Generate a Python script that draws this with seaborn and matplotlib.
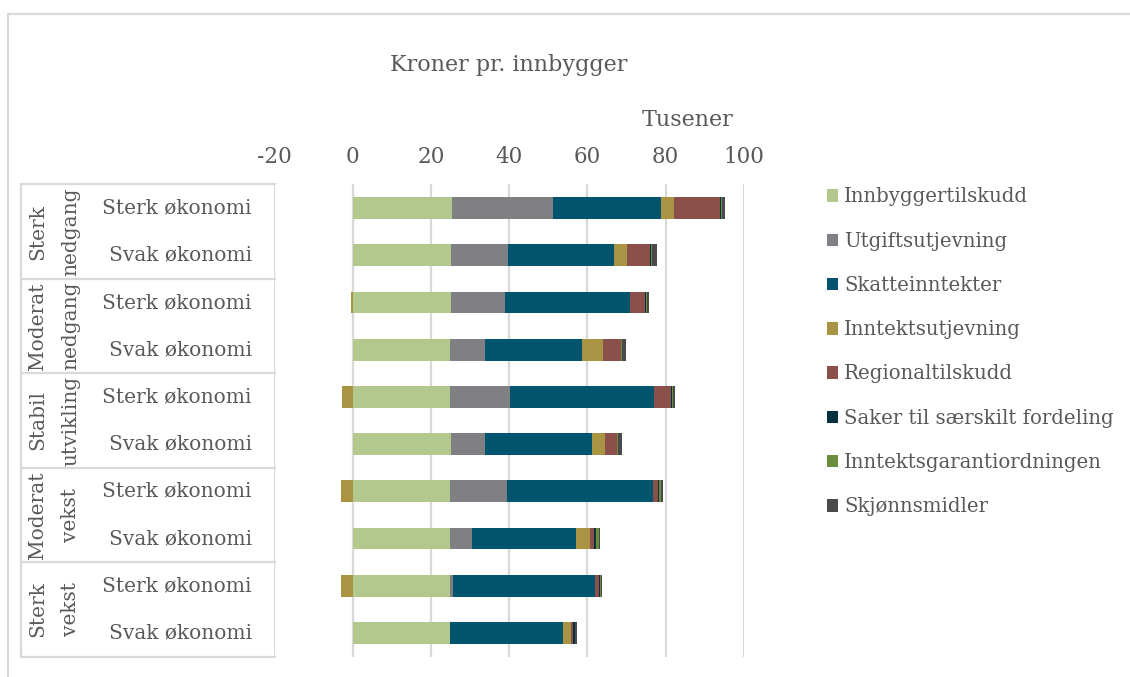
import numpy as np
import pandas as pd
import matplotlib
matplotlib.use("Agg")
import matplotlib.pyplot as plt
import matplotlib.transforms as mtransforms
from matplotlib.patches import Patch, Rectangle
from matplotlib.lines import Line2D
import seaborn as sns

# ---------------- data ----------------
groups = ["Sterk\nnedgang", "Moderat\nnedgang", "Stabil\nutvikling", "Moderat\nvekst", "Sterk\nvekst"]
economies = ["Sterk økonomi", "Svak økonomi"]

series_names = [
    "Innbyggertilskudd",
    "Utgiftsutjevning",
    "Skatteinntekter",
    "Inntektsutjevning",
    "Regionaltilskudd",
    "Saker til særskilt fordeling",
    "Inntektsgarantiordningen",
    "Skjønnsmidler",
]

# values (tusen kroner pr. innbygger), rows in chart order (top -> bottom)
innbyggertilskudd = [25.4, 25.1, 25.0, 24.9, 24.9, 25.0, 24.9, 24.8, 24.8, 24.9]
utgiftsutjevning = [25.9, 14.5, 13.8, 8.9, 15.3, 8.8, 14.5, 5.6, 0.8, 0.0]
skatteinntekter = [27.5, 27.1, 32.1, 24.8, 36.9, 27.4, 37.3, 26.7, 36.2, 28.8]
inntektsutjevning = [3.2, 3.5, -0.4, 5.4, -2.6, 3.2, -3.1, 3.5, -2.9, 2.2]
regionaltilskudd = [11.8, 5.9, 3.9, 4.5, 4.2, 3.1, 1.4, 1.1, 1.1, 0.3]
saker = [0.3, 0.2, 0.2, 0.1, 0.3, 0.1, 0.3, 0.4, 0.4, 0.5]
inntektsgaranti = [0.2, 0.2, 0.2, 0.1, 0.3, 0.1, 0.4, 0.8, 0.1, 0.1]
skjonnsmidler = [0.9, 1.2, 0.5, 1.2, 0.4, 1.0, 0.6, 0.4, 0.2, 0.6]

colors = ["#B3C88D", "#807F84", "#00546E", "#A89443", "#8B5049", "#06323F", "#6B8E3E", "#4A4A4D"]

x_ticks = [-20, 0, 20, 40, 60, 80, 100]

# ---------------- style ----------------
sns.set_style("white")
plt.rcParams["font.family"] = ["DejaVu Serif"]
TXT = "#595959"
GRID = "#D9D9D9"
FS = 14.5
FS_BIG = 16

W, H = 1130, 677
fig = plt.figure(figsize=(W / 100, H / 100), dpi=100)

def fx(px):
    return px / W

def fy(py):
    return 1 - py / H

ax = fig.add_axes([fx(274.4), fy(656.6), fx(744) - fx(274.4), fy(184.4) - fy(656.6)])

row_keys = [f"{g.replace(chr(10), ' ')} | {e}" for g in groups for e in economies]
all_series = [innbyggertilskudd, utgiftsutjevning, skatteinntekter, inntektsutjevning,
              regionaltilskudd, saker, inntektsgaranti, skjonnsmidler]
vals = np.array(all_series, dtype=float)  # (8, 10)
pos = np.clip(vals, 0, None)
neg = np.clip(vals, None, 0)
cum = np.cumsum(pos, axis=0)

BAR_W = 0.46
# draw cumulative positive stacks from outermost to innermost
for k in range(len(series_names) - 1, -1, -1):
    df = pd.DataFrame({"row": row_keys, "value": cum[k]})
    sns.barplot(data=df, x="value", y="row", order=row_keys, color=colors[k],
                saturation=1, width=BAR_W, linewidth=0, ax=ax, orient="h", zorder=3)
# negative parts (Inntektsutjevning)
df_neg = pd.DataFrame({"row": row_keys, "value": neg[3]})
sns.barplot(data=df_neg, x="value", y="row", order=row_keys, color=colors[3],
            saturation=1, width=BAR_W, linewidth=0, ax=ax, orient="h", zorder=3)

ax.set_xlim(-20, 100)
ax.set_ylim(9.5, -0.5)
ax.set_xticks(x_ticks)
ax.set_xticklabels([str(t) for t in x_ticks])
ax.xaxis.tick_top()
ax.tick_params(axis="x", length=0, pad=12, labelsize=15.5, labelcolor=TXT)
ax.set_yticks([])
ax.set_xlabel("")
ax.set_ylabel("")
for s in ax.spines.values():
    s.set_visible(False)
for t in x_ticks:
    ax.axvline(t, color=GRID, lw=1.6, zorder=1)

# ---------------- left table ----------------
blend = mtransforms.blended_transform_factory(fig.transFigure, ax.transData)
for yb in [-0.5, 1.5, 3.5, 5.5, 7.5, 9.5]:
    fig.add_artist(Line2D([fx(21), fx(275)], [yb, yb], transform=blend, color=GRID, lw=1.6))
fig.add_artist(Line2D([fx(21), fx(21)], [-0.5, 9.5], transform=blend, color=GRID, lw=1.6))

for i, g in enumerate(groups):
    fig.text(fx(54), 2 * i + 0.5, g, transform=blend, rotation=90, ha="center", va="center",
             fontsize=FS, color=TXT, linespacing=1.95, multialignment="center")
for i, key in enumerate(row_keys):
    fig.text(fx(252), i, key.split(" | ")[1], transform=blend, ha="right", va="center",
             fontsize=FS, color=TXT)

# ---------------- titles ----------------
fig.text(fx(509), fy(65), "Kroner pr. innbygger", ha="center", va="center", fontsize=FS_BIG, color=TXT)
fig.text(fx(688), fy(120), "Tusener", ha="center", va="center", fontsize=FS_BIG, color=TXT)

# ---------------- legend ----------------
handles = [Patch(facecolor=c, edgecolor="none", label=n) for c, n in zip(colors, series_names)]
leg = fig.legend(handles=handles, loc="upper left", bbox_to_anchor=(fx(826.5), fy(187.5)),
                 bbox_transform=fig.transFigure, frameon=False, fontsize=14.2,
                 handlelength=0.6, handleheight=0.6, handletextpad=0.3,
                 labelspacing=1.28, borderpad=0, borderaxespad=0)
for t in leg.get_texts():
    t.set_color(TXT)

# ---------------- chart border ----------------
fig.add_artist(Rectangle((fx(7.5), -0.1), 1.2, fy(14) + 0.1, transform=fig.transFigure,
                         fill=False, edgecolor=GRID, lw=1.6))

fig.savefig("out.png", dpi=100)
